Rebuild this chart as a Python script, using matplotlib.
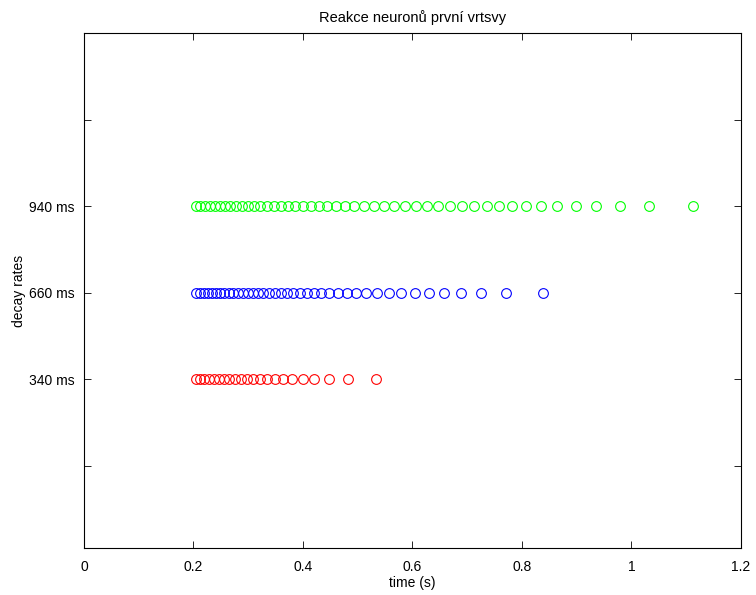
import matplotlib
matplotlib.use('Agg')
import matplotlib.pyplot as plt

# spike times (s), one list per decay rate
t_340 = [0.2046, 0.2119, 0.2201, 0.2283, 0.2374, 0.2466, 0.2557, 0.2658, 0.2758,
         0.2868, 0.2977, 0.3096, 0.3215, 0.3352, 0.3489, 0.3635, 0.3799, 0.4000,
         0.4201, 0.4475, 0.4822, 0.5333]
t_660 = [0.2046, 0.2119, 0.2192, 0.2265, 0.2338, 0.2411, 0.2484, 0.2566, 0.2648,
         0.2731, 0.2813, 0.2904, 0.2995, 0.3087, 0.3178, 0.3279, 0.3379, 0.3489,
         0.3598, 0.3708, 0.3826, 0.3945, 0.4073, 0.4201, 0.4338, 0.4484, 0.4639,
         0.4804, 0.4977, 0.5160, 0.5352, 0.5571, 0.5799, 0.6046, 0.6301, 0.6575,
         0.6886, 0.7251, 0.7708, 0.8384]
t_940 = [0.2046, 0.2128, 0.2210, 0.2301, 0.2393, 0.2484, 0.2575, 0.2676, 0.2776,
         0.2886, 0.2995, 0.3105, 0.3224, 0.3342, 0.3470, 0.3598, 0.3726, 0.3863,
         0.4000, 0.4146, 0.4292, 0.4447, 0.4603, 0.4767, 0.4941, 0.5114, 0.5297,
         0.5479, 0.5671, 0.5863, 0.6064, 0.6265, 0.6475, 0.6685, 0.6904, 0.7123,
         0.7361, 0.7580, 0.7817, 0.8073, 0.8347, 0.8639, 0.8986, 0.9352, 0.9790,
         1.0320, 1.1123]

rows = [2, 3, 4]
row_labels = ['340 ms', '660 ms', '940 ms']

plt.rcParams['font.family'] = ['Liberation Sans', 'DejaVu Sans']
plt.rcParams['font.size'] = 10

fig = plt.figure(figsize=(7.56, 5.95), dpi=100)
ax = fig.add_axes([0.111, 0.079, 0.869, 0.8655])

ax.plot(t_340, [rows[0]] * len(t_340), 'o', mfc='none', mec='#ff0000', ms=7, mew=0.8)
ax.plot(t_660, [rows[1]] * len(t_660), 'o', mfc='none', mec='#0000ff', ms=7, mew=0.8)
ax.plot(t_940, [rows[2]] * len(t_940), 'o', mfc='none', mec='#00ff00', ms=7, mew=0.8)

ax.set_xlim(0, 1.2)
ax.set_ylim(0.05, 6)
ax.set_xticks([0, 0.2, 0.4, 0.6, 0.8, 1, 1.2])
ax.set_xticklabels(['0', '0.2', '0.4', '0.6', '0.8', '1', '1.2'])
ax.set_yticks([1, 2, 3, 4, 5])
ax.set_yticklabels([''] + row_labels + [''])
ax.tick_params(direction='in', top=True, right=True, length=5, width=0.6)
ax.tick_params(axis='x', pad=9)
ax.tick_params(axis='y', pad=7)
for s in ax.spines.values():
    s.set_linewidth(0.8)

ax.set_title('Reakce neuronů první vrtsvy', fontsize=10.5, pad=8)
ax.set_xlabel('time (s)', labelpad=1)
ax.set_ylabel('decay rates', labelpad=2)

fig.savefig('out.png', dpi=100)
